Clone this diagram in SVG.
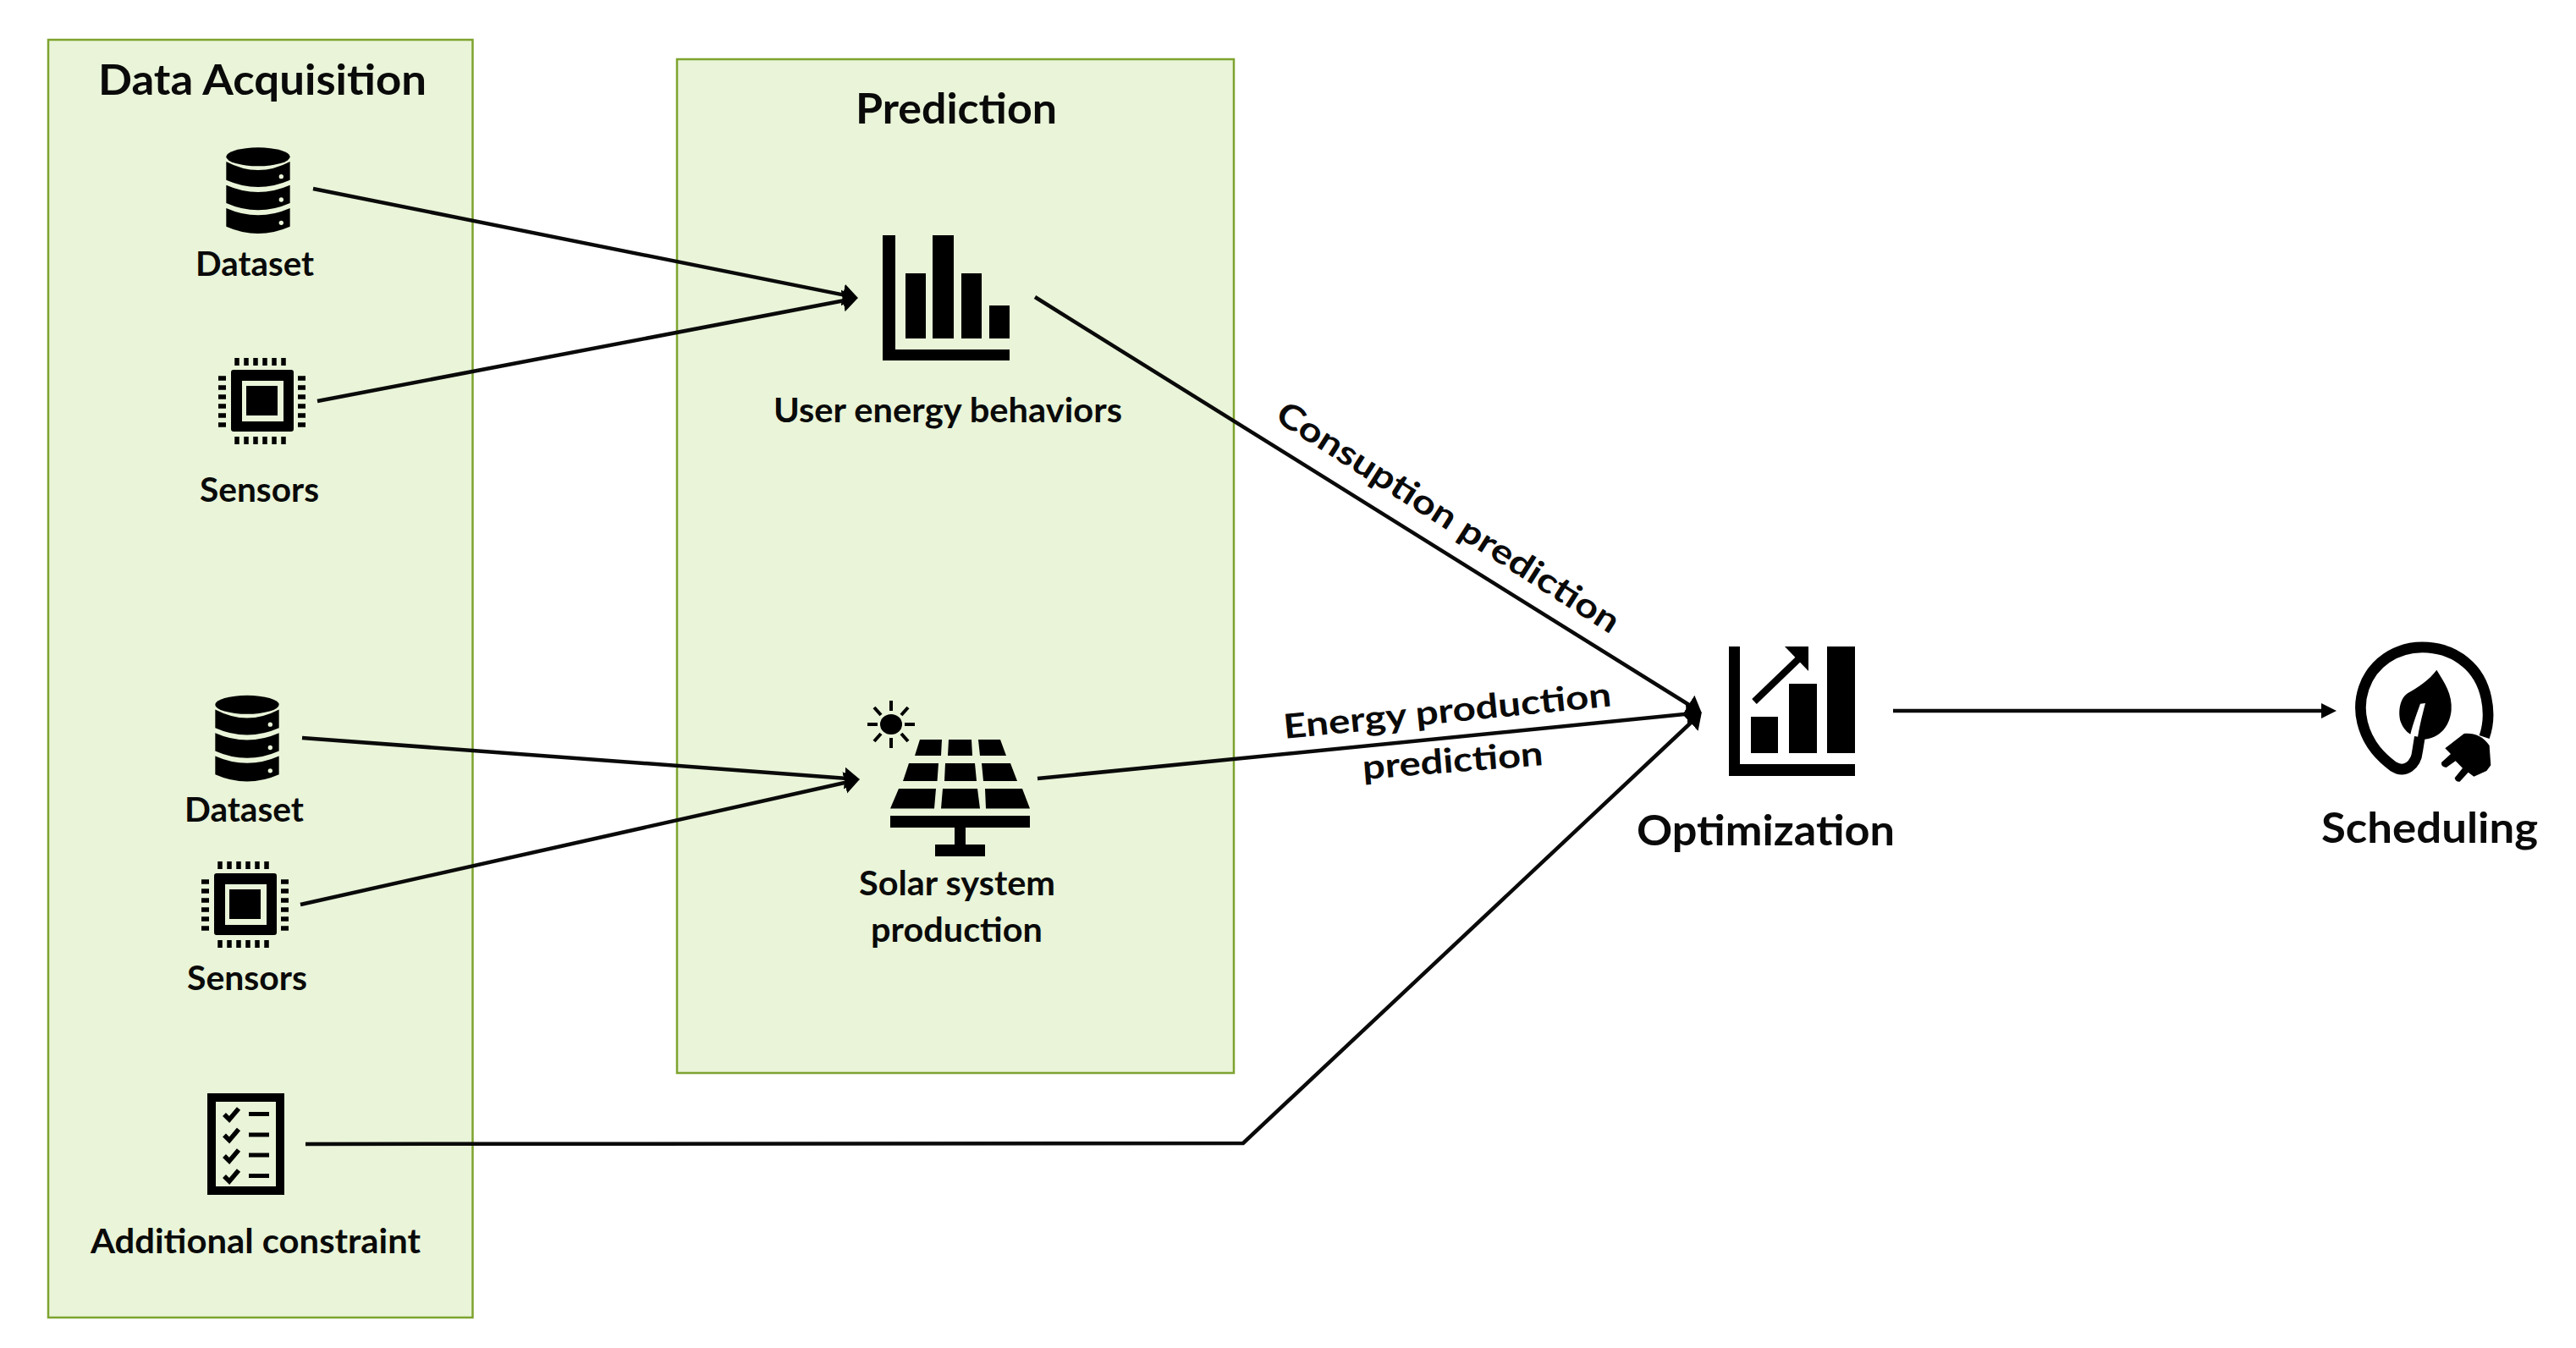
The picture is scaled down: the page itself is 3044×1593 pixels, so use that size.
<svg xmlns="http://www.w3.org/2000/svg" xmlns:xlink="http://www.w3.org/1999/xlink" width="3044" height="1593" viewBox="0 0 3044 1593">
<style>
text{font-family:"Lato","Open Sans","Liberation Sans",sans-serif;font-weight:700;fill:#0a0a0a}
.t{font-size:50px}
.l{font-size:40px}
.panel{fill:#e9f4d8;stroke:#7ea32f;stroke-width:2.5}
.c{fill:none;stroke:#0a0a0a;stroke-width:4.5}
.i{fill:#000}
</style>
<defs>
<marker id="ah" markerUnits="userSpaceOnUse" markerWidth="20" markerHeight="28" refX="10" refY="13" orient="auto"><path d="M0 0L18 13L0 26Z" fill="#000"/></marker>
<marker id="as" markerUnits="userSpaceOnUse" markerWidth="20" markerHeight="20" refX="10" refY="9" orient="auto"><path d="M0 0L18 9L0 18Z" fill="#000"/></marker>
<g id="db" transform="translate(250 165) scale(.3333)">
<ellipse class="i" cx="165" cy="58" rx="113" ry="33"/>
<path class="i" d="M52 75Q165 135 278 75V140Q165 190 52 140Z"/>
<path class="i" d="M52 158Q165 208 278 158V222Q165 272 52 222Z"/>
<path class="i" d="M52 240Q165 290 278 240V305Q165 355 52 305Z"/>
<circle cx="247" cy="128" r="8" fill="#e9f4d8"/><circle cx="247" cy="210" r="8" fill="#e9f4d8"/><circle cx="247" cy="292" r="8" fill="#e9f4d8"/>
</g>
<g id="chip">
<path class="i" fill-rule="evenodd" d="M276 436H344Q347 436 347 439V506Q347 509 344 509H276Q273 509 273 506V439Q273 436 276 436ZM286 449V497H335V449Z"/>
<rect class="i" x="291" y="455" width="37" height="35"/>
<path d="M280 422v9M291 422v9M302 422v9M313 422v9M324 422v9M335 422v9M280 515v9M291 515v9M302 515v9M313 515v9M324 515v9M335 515v9M258 446h9M258 457h9M258 468h9M258 479h9M258 490h9M258 501h9M352 446h9M352 457h9M352 468h9M352 479h9M352 490h9M352 501h9" stroke="#000" stroke-width="5.5" fill="none"/>
</g>
</defs>
<g transform="translate(0 1)">
<g id="data-acquisition">
<rect class="panel" x="57" y="46" width="501.500" height="1510"/>
<text class="t" x="116" y="111" textLength="388" lengthAdjust="spacingAndGlyphs">Data Acquisition</text>
</g>
<g id="prediction">
<rect class="panel" x="800" y="69" width="658" height="1198"/>
<text class="t" x="1011" y="145" textLength="238" lengthAdjust="spacingAndGlyphs">Prediction</text>
</g>

<g id="connectors">
<path class="c" marker-end="url(#ah)" d="M370 222L1006 349.4"/>
<path class="c" marker-end="url(#ah)" d="M375 473L1006 352.5"/>
<path class="c" marker-end="url(#ah)" d="M357 871L1008 919.4"/>
<path class="c" marker-end="url(#ah)" d="M355 1068L1008 921.7"/>
<path class="c" marker-end="url(#ah)" d="M1223 350L2004 837"/>
<path class="c" marker-end="url(#ah)" d="M1226 919L2003 841.8"/>
<path class="c" marker-end="url(#ah)" d="M361 1351L1469 1350L2005 846.5"/>
<path class="c" marker-end="url(#as)" d="M2237 839L2753 839"/>
</g>

<g id="dataset-1">
<use href="#db" xlink:href="#db"/>
<text class="l" x="231" y="325" textLength="140" lengthAdjust="spacingAndGlyphs">Dataset</text>
</g>
<g id="sensors-1">
<use href="#chip" xlink:href="#chip"/>
<text class="l" x="236" y="592" textLength="141" lengthAdjust="spacingAndGlyphs">Sensors</text>
</g>
<g id="dataset-2">
<use href="#db" xlink:href="#db" x="-13" y="647.5"/>
<text class="l" x="218" y="970" textLength="141" lengthAdjust="spacingAndGlyphs">Dataset</text>
</g>
<g id="sensors-2">
<use href="#chip" xlink:href="#chip" x="-20" y="595"/>
<text class="l" x="221" y="1169" textLength="142" lengthAdjust="spacingAndGlyphs">Sensors</text>
</g>
<g id="additional-constraint">
<rect x="250" y="1296" width="81" height="110" fill="none" stroke="#000" stroke-width="10"/>
<path d="M265 1316l6 6 11-13M265 1340.500l6 6 11-13M265 1365l6 6 11-13M265 1389l6 6 11-13" fill="none" stroke="#000" stroke-width="5.5"/>
<path d="M294 1315.500h24M294 1340h24M294 1364h24M294 1388.500h24" fill="none" stroke="#000" stroke-width="5"/>
<text class="l" x="107" y="1480" textLength="390" lengthAdjust="spacingAndGlyphs">Additional constraint</text>
</g>
<g id="user-energy-behaviors">
<path class="i" d="M1043 277H1058V412H1193V425H1043Z"/>
<rect class="i" x="1070" y="322" width="24" height="77"/>
<rect class="i" x="1102" y="277" width="25" height="122"/>
<rect class="i" x="1136" y="322" width="24" height="77"/>
<rect class="i" x="1169" y="360" width="24" height="39"/>
<text class="l" x="914" y="498" textLength="412" lengthAdjust="spacingAndGlyphs">User energy behaviors</text>
</g>
<g id="solar-system-production">
<ellipse class="i" cx="1053" cy="855" rx="13" ry="12"/>
<path d="M1053 827v12M1053 871v12M1025 855h12M1069 855h12M1033 835l8 9M1073 835l-8 9M1033 875l8-9M1073 875l-8-9" stroke="#000" stroke-width="4" fill="none"/>
<path class="i" d="M1087 873H1113L1112 892H1081ZM1121 873H1148L1149 892H1120ZM1156 873H1182L1189 892H1158Z"/>
<path class="i" d="M1074 901H1109L1107.500 922H1067ZM1117 901H1152L1154 922H1116ZM1160 901H1194L1202 922H1162Z"/>
<path class="i" d="M1062 931H1106L1104 954.500H1052ZM1114 931H1155L1158 954.500H1112ZM1164 931H1208L1217 954.500H1165Z"/>
<rect class="i" x="1052" y="963" width="165" height="14"/>
<rect class="i" x="1128" y="977" width="13" height="20"/>
<rect class="i" x="1105" y="997" width="59" height="14"/>
<text class="l" x="1015" y="1057" textLength="232" lengthAdjust="spacingAndGlyphs">Solar system</text>
<text class="l" x="1029" y="1112" textLength="203" lengthAdjust="spacingAndGlyphs">production</text>
</g>
<g id="optimization">
<path class="i" d="M2043 763H2056V902H2192V916H2043Z"/>
<rect class="i" x="2069" y="846" width="32" height="43"/>
<rect class="i" x="2114" y="807" width="33" height="82"/>
<rect class="i" x="2159" y="763" width="33" height="126"/>
<path class="i" d="M2109 763H2137V792Z"/>
<path d="M2073 828L2125 778" stroke="#000" stroke-width="8" fill="none"/>
<text class="t" x="1934" y="998" textLength="305" lengthAdjust="spacingAndGlyphs">Optimization</text>
</g>
<g id="scheduling">
<g transform="translate(2760 740) scale(.3333)">
<path d="M527 390C555 310 540 190 460 125C390 65 270 50 180 110C100 165 75 260 95 340C115 420 165 465 205 495C245 520 285 490 290 440L298 390" fill="none" stroke="#000" stroke-width="38"/>
<path class="i" d="M358 152C330 190 290 215 255 235C225 255 220 310 232 340C240 360 255 375 265 380C275 340 290 300 300 272L318 270C305 320 295 360 290 400L315 398C370 395 405 350 410 295C415 240 385 195 358 152Z"/>
<path class="i" d="M455 378C490 375 520 385 545 420L550 490L535 510L490 530L470 515L440 548Q425 550 422 535L450 500L425 475L392 498Q372 495 375 480L408 450L388 430Z"/>
</g>
<text class="t" x="2743" y="995" textLength="256" lengthAdjust="spacingAndGlyphs">Scheduling</text>
</g>
<g id="connector-labels">
<text class="l" transform="translate(1505 495) rotate(32.500)" textLength="472" lengthAdjust="spacingAndGlyphs">Consuption prediction</text>
<text class="l" transform="translate(1518 872) rotate(-5.700)" textLength="389" lengthAdjust="spacingAndGlyphs">Energy production</text>
<text class="l" transform="translate(1611 920) rotate(-4.500)" textLength="214" lengthAdjust="spacingAndGlyphs">prediction</text>
</g>
</g>
</svg>
